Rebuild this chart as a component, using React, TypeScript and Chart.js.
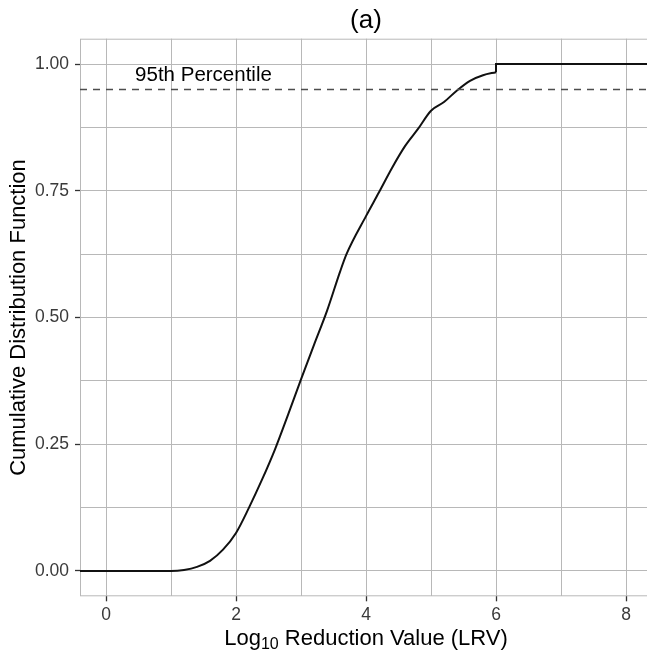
import React, { useEffect, useRef } from 'react';
import { Chart, registerables } from 'chart.js';

Chart.register(...registerables);

const FONT = '"Liberation Sans", Arial, Helvetica, sans-serif';

// ---- text ----
const TITLE = '(a)';
const Y_TITLE = 'Cumulative Distribution Function';
const X_TITLE_MAIN = 'Log';
const X_TITLE_SUB = '10';
const X_TITLE_REST = ' Reduction Value (LRV)';
const LABEL_TEXT = '95th Percentile';
const LABEL_X = 1.5;
const LABEL_Y = 0.98;

// ---- reference line ----
const P95 = 0.95;

// ---- axes ----
const X_MIN = -0.4;
const X_MAX = 8.4;
const Y_MIN = -0.05;
const Y_MAX = 1.05;
const xGrid = [0, 1, 2, 3, 4, 5, 6, 7, 8];
const xLabeled = [0, 2, 4, 6, 8];
const yGrid = [0, 0.125, 0.25, 0.375, 0.5, 0.625, 0.75, 0.875, 1];
const yLabeled = [0, 0.25, 0.5, 0.75, 1];
const yLabels = ['0.00', '0.25', '0.50', '0.75', '1.00'];

const lrv = [1.0, 1.2, 1.4, 1.6, 1.8, 2.0, 2.2, 2.4, 2.6, 2.8, 3.0, 3.2, 3.4, 3.6, 3.7, 4.0, 4.2, 4.4, 4.6, 4.8, 5.0, 5.2, 5.4, 5.6, 5.8, 6.0];
const cdf = [0, 0.002, 0.008, 0.02, 0.042, 0.075, 0.125, 0.18, 0.24, 0.308, 0.378, 0.446, 0.513, 0.59, 0.625, 0.7, 0.747, 0.795, 0.838, 0.872, 0.908, 0.925, 0.948, 0.967, 0.978, 0.984];
// final jump of the ECDF
const jumpX = 6.0;
const jumpTo = 1.0;

const GRID = '#b8b8b8';
const TICK = '#333333';
const TICK_TEXT = '#3a3a3a';

const textPlugin = {
  id: 'ggText',
  beforeDatasetsDraw(chart: any) {
    const { ctx, chartArea: a } = chart;
    ctx.save();
    ctx.strokeStyle = GRID;
    ctx.lineWidth = 1;
    ctx.strokeRect(a.left + 0.5, a.top + 0.5, a.right - a.left - 1, a.bottom - a.top - 1);
    ctx.restore();
  },
  afterDraw(chart: any) {
    const { ctx, chartArea: a, scales } = chart;
    const cx = (a.left + a.right) / 2;
    ctx.save();
    ctx.fillStyle = '#000';
    ctx.textAlign = 'center';
    ctx.textBaseline = 'alphabetic';
    ctx.font = `26px ${FONT}`;
    ctx.fillText(TITLE, cx, 28);

    ctx.font = `20.5px ${FONT}`;
    ctx.fillText(LABEL_TEXT, scales.x.getPixelForValue(LABEL_X), scales.y.getPixelForValue(LABEL_Y) + 7.3);

    ctx.save();
    ctx.translate(25, (a.top + a.bottom) / 2);
    ctx.rotate(-Math.PI / 2);
    ctx.font = `22px ${FONT}`;
    ctx.textAlign = 'center';
    ctx.fillText(Y_TITLE, 0, 0);
    ctx.restore();

    ctx.textAlign = 'left';
    const mainFont = `22px ${FONT}`;
    const subFont = `16px ${FONT}`;
    ctx.font = mainFont;
    const w1 = ctx.measureText(X_TITLE_MAIN).width;
    const w3 = ctx.measureText(X_TITLE_REST).width;
    ctx.font = subFont;
    const w2 = ctx.measureText(X_TITLE_SUB).width;
    let sx = cx - (w1 + w2 + w3) / 2;
    const base = 645;
    ctx.font = mainFont;
    ctx.fillText(X_TITLE_MAIN, sx, base);
    sx += w1;
    ctx.font = subFont;
    ctx.fillText(X_TITLE_SUB, sx, base + 3.5);
    sx += w2;
    ctx.font = mainFont;
    ctx.fillText(X_TITLE_REST, sx, base);
    ctx.restore();
  },
};

export default function App() {
  const ref = useRef<HTMLCanvasElement | null>(null);

  useEffect(() => {
    if (!ref.current) return;
    const curve = [{ x: X_MIN, y: 0 }, ...lrv.map((v, i) => ({ x: v, y: cdf[i] }))];
    const step = [
      { x: lrv[lrv.length - 1], y: cdf[cdf.length - 1] },
      { x: jumpX, y: jumpTo },
      { x: X_MAX, y: jumpTo },
    ];
    const pLine = [{ x: X_MIN, y: P95 }, { x: X_MAX, y: P95 }];

    const chart = new Chart(ref.current, {
      type: 'line',
      data: {
        datasets: [
          {
            data: pLine,
            borderColor: '#4d4d4d',
            borderWidth: 1.5,
            borderDash: [7, 6],
            pointRadius: 0,
            tension: 0,
          },
          {
            data: curve,
            borderColor: '#111111',
            borderWidth: 2,
            pointRadius: 0,
            cubicInterpolationMode: 'monotone',
          },
          {
            data: step,
            borderColor: '#111111',
            borderWidth: 2,
            pointRadius: 0,
            tension: 0,
          },
        ],
      },
      options: {
        responsive: false,
        animation: false,
        events: [],
        layout: { padding: { top: 38.7, left: 0, right: 0, bottom: 0 } },
        plugins: {
          legend: { display: false },
          tooltip: { enabled: false },
          title: { display: false },
        },
        scales: {
          x: {
            type: 'linear',
            min: X_MIN,
            max: X_MAX,
            afterBuildTicks: (s: any) => {
              s.ticks = xGrid.map((v) => ({ value: v }));
            },
            afterFit: (s: any) => {
              s.height = 58.7;
            },
            ticks: {
              autoSkip: false,
              maxRotation: 0,
              padding: 3,
              color: TICK_TEXT,
              font: { family: FONT, size: 17.5 },
              callback: (v: any) => (xLabeled.includes(Number(v)) ? String(v) : ''),
            },
            grid: {
              color: GRID,
              lineWidth: 1,
              drawTicks: true,
              tickLength: 5,
              tickWidth: 1.3,
              tickColor: (c: any) => (c.tick && xLabeled.includes(c.tick.value) ? TICK : 'rgba(0,0,0,0)'),
            },
            border: { display: false },
          },
          y: {
            type: 'linear',
            min: Y_MIN,
            max: Y_MAX,
            afterBuildTicks: (s: any) => {
              s.ticks = yGrid.map((v) => ({ value: v }));
            },
            afterFit: (s: any) => {
              s.width = 80;
            },
            ticks: {
              autoSkip: false,
              padding: 6,
              color: TICK_TEXT,
              font: { family: FONT, size: 17.5 },
              callback: (v: any) => {
                const i = yLabeled.indexOf(Number(v));
                return i >= 0 ? yLabels[i] : '';
              },
            },
            grid: {
              color: GRID,
              lineWidth: 1,
              drawTicks: true,
              tickLength: 5,
              tickWidth: 1.3,
              tickColor: (c: any) => (c.tick && yLabeled.includes(c.tick.value) ? TICK : 'rgba(0,0,0,0)'),
            },
            border: { display: false },
          },
        },
      },
      plugins: [textPlugin],
    } as any);

    return () => chart.destroy();
  }, []);

  return (
    <div style={{ position: 'fixed', left: 0, top: 0, width: 647, height: 655, overflow: 'hidden', background: '#fff' }}>
      <canvas ref={ref} width={652} height={655} style={{ display: 'block' }} />
    </div>
  );
}
